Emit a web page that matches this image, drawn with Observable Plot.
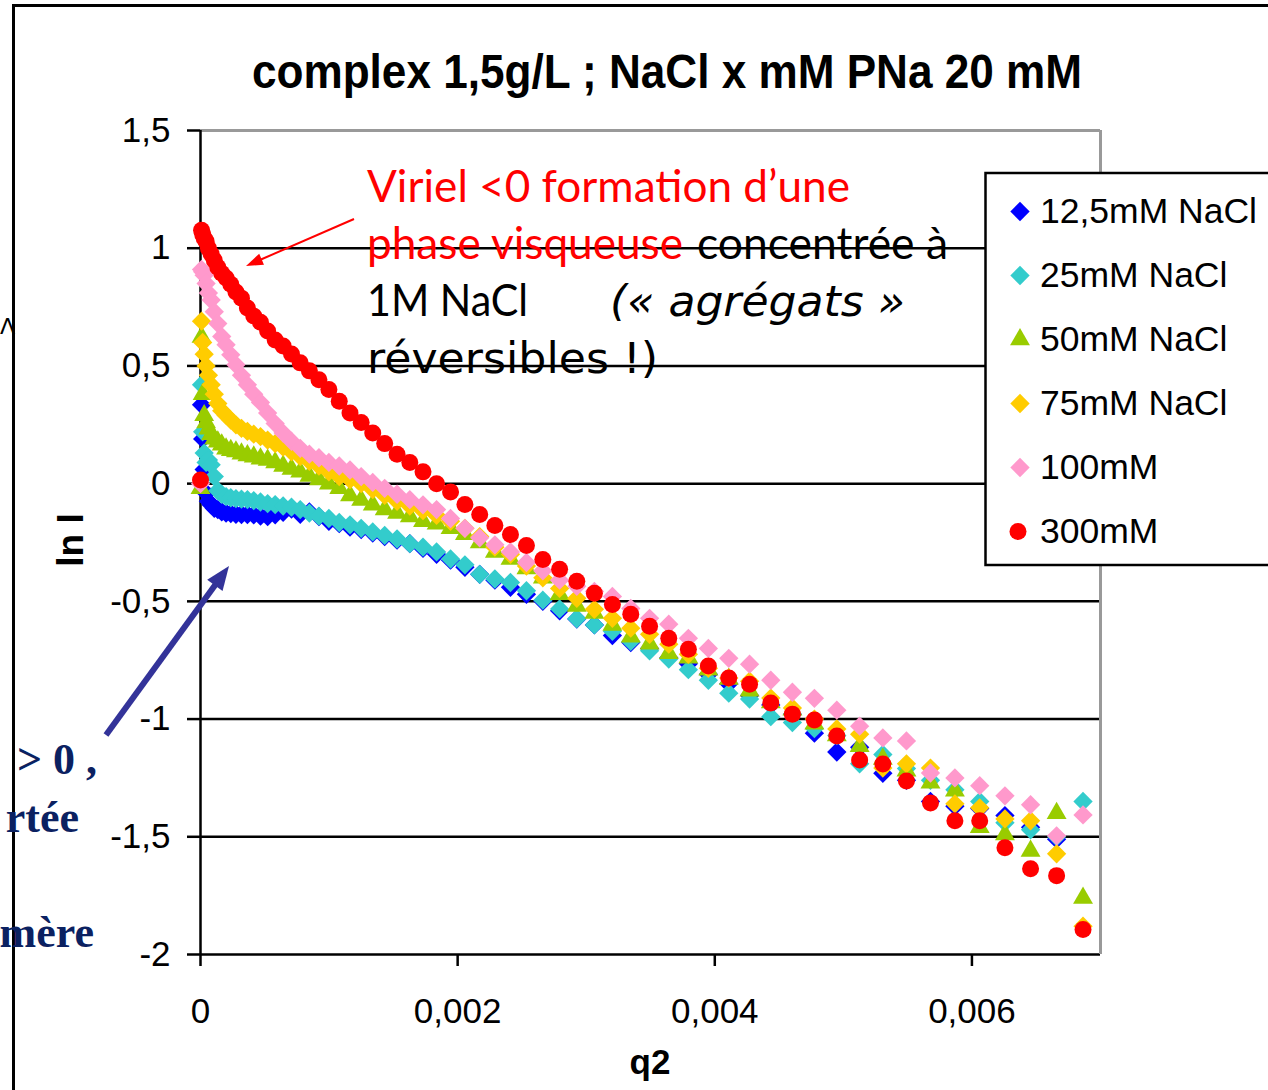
<!DOCTYPE html>
<html>
<head>
<meta charset="utf-8">
<script src="https://cdn.jsdelivr.net/npm/d3@7"></script>
<script src="https://cdn.jsdelivr.net/npm/@observablehq/plot@0.6"></script>
<style>
html, body { margin: 0; padding: 0; background: #fff; }
#chart { width: 1268px; height: 1090px; overflow: hidden; position: relative; }
#chart svg { display: block; }
</style>
</head>
<body>
<div id="chart"></div>
<script>
// ---------- DATA ----------
const q2 = [0, 0.0000081, 0.0000168, 0.0000286, 0.0000436, 0.0000616, 0.0000828, 0.0001071, 0.0001346, 0.0001651,
  0.0001988, 0.0002356, 0.0002756, 0.0003186, 0.0003648, 0.0004141, 0.0004666, 0.0005221, 0.0005808, 0.0006426,
  0.0007076, 0.0007756, 0.0008468, 0.0009211, 0.0009986, 0.0010791, 0.0011628, 0.0012496, 0.0013396, 0.0014326,
  0.0015288, 0.0016281, 0.0017306, 0.0018361, 0.0019448, 0.0020566, 0.0021716, 0.0022896, 0.0024108, 0.0025351,
  0.0026626, 0.0027931, 0.0029268, 0.0030636, 0.0032036, 0.0033466, 0.0034928, 0.0036421, 0.0037946, 0.0039501,
  0.0041088, 0.0042706, 0.0044356, 0.0046036, 0.0047748, 0.0049491, 0.0051266, 0.0053071, 0.0054908, 0.0056776,
  0.0058676, 0.0060606, 0.0062568, 0.0064561, 0.0066586, 0.0068641];

const lnI_12_5 = [null, 0.335, 0.19, 0.06, -0.04, -0.075, -0.09, -0.105, -0.11, -0.12,
  -0.125, -0.127, -0.13, -0.131, -0.131, -0.133, -0.138, -0.14, -0.132, -0.122,
  -0.108, -0.13, -0.12, -0.14, -0.16, -0.17, -0.185, -0.195, -0.21, -0.225,
  -0.24, -0.255, -0.275, -0.30, -0.325, -0.355, -0.385, -0.41, -0.44, -0.47,
  -0.50, -0.54, -0.575, -0.60, -0.645, -0.675, -0.70, -0.74, -0.765, -0.81,
  -0.85, -0.90, -0.94, -0.98, -1.06, -1.14, -1.12, -1.23, -1.26, -1.35,
  -1.37, -1.38, -1.41, -1.46, -1.51];

const lnI_25 = [null, 0.42, 0.22, 0.13, 0.09, 0.10, 0.08, 0.03, -0.03, -0.045,
  -0.055, -0.06, -0.064, -0.066, -0.068, -0.072, -0.078, -0.085, -0.089, -0.095,
  -0.10, -0.11, -0.125, -0.138, -0.148, -0.165, -0.175, -0.19, -0.205, -0.22,
  -0.235, -0.255, -0.27, -0.29, -0.32, -0.345, -0.385, -0.405, -0.42, -0.455,
  -0.495, -0.532, -0.574, -0.60, -0.627, -0.67, -0.71, -0.745, -0.79, -0.835,
  -0.89, -0.915, -0.99, -1.015, -1.04, -1.07, -1.19, -1.15, -1.21, -1.26,
  -1.30, -1.35, -1.44, -1.47, -1.50, -1.35];

const lnI_50 = [-0.02, 0.623, 0.38, 0.29, 0.26, 0.233, 0.21, 0.191, 0.178, 0.165,
  0.148, 0.142, 0.136, 0.127, 0.12, 0.114, 0.106, 0.10, 0.09, 0.075,
  0.062, 0.05, 0.032, 0.018, 0.0, -0.02, -0.05, -0.07, -0.09, -0.11,
  -0.125, -0.14, -0.16, -0.17, -0.19, -0.215, -0.25, -0.29, -0.32, -0.36,
  -0.40, -0.47, -0.52, -0.55, -0.60, -0.65, -0.68, -0.72, -0.74, -0.79,
  -0.83, -0.88, -0.93, -0.96, -1.02, -1.07, -1.115, -1.17, -1.22, -1.27,
  -1.305, -1.46, -1.49, -1.56, -1.40, -1.76];

const lnI_75 = [null, 0.69, 0.60, 0.55, 0.50, 0.46, 0.42, 0.38, 0.34, 0.31,
  0.29, 0.27, 0.25, 0.235, 0.222, 0.21, 0.20, 0.185, 0.17, 0.155,
  0.135, 0.115, 0.095, 0.075, 0.05, 0.03, 0.017, 0.0, -0.025, -0.05,
  -0.075, -0.095, -0.115, -0.135, -0.16, -0.19, -0.225, -0.27, -0.30, -0.35,
  -0.40, -0.445, -0.487, -0.534, -0.572, -0.614, -0.64, -0.682, -0.725, -0.784,
  -0.826, -0.839, -0.911, -0.953, -1.0, -1.042, -1.064, -1.208, -1.19, -1.208,
  -1.36, -1.377, -1.424, -1.432, -1.572, -1.88];

const lnI_100 = [0.0, 0.91, 0.90, 0.885, 0.85, 0.81, 0.78, 0.73, 0.68, 0.625,
  0.59, 0.547, 0.505, 0.46, 0.42, 0.38, 0.345, 0.30, 0.255, 0.215,
  0.18, 0.15, 0.125, 0.11, 0.09, 0.075, 0.058, 0.03, 0.005, -0.02,
  -0.045, -0.068, -0.09, -0.11, -0.148, -0.19, -0.23, -0.26, -0.29, -0.335,
  -0.37, -0.41, -0.436, -0.458, -0.479, -0.53, -0.572, -0.597, -0.657, -0.70,
  -0.742, -0.767, -0.835, -0.886, -0.912, -0.962, -1.03, -1.08, -1.093, -1.229,
  -1.25, -1.283, -1.326, -1.364, -1.496, -1.407];

const lnI_300 = [0.015, 1.076, 1.059, 1.042, 1.030, 1.000, 0.975, 0.949, 0.919, 0.894,
  0.873, 0.847, 0.814, 0.788, 0.746, 0.712, 0.686, 0.648, 0.610, 0.585,
  0.551, 0.513, 0.479, 0.441, 0.40, 0.35, 0.30, 0.26, 0.215, 0.17,
  0.125, 0.09, 0.05, 0.0, -0.035, -0.089, -0.131, -0.178, -0.216, -0.263,
  -0.322, -0.364, -0.415, -0.466, -0.513, -0.555, -0.606, -0.657, -0.703, -0.775,
  -0.826, -0.852, -0.932, -0.979, -1.004, -1.072, -1.174, -1.191, -1.263, -1.356,
  -1.432, -1.432, -1.547, -1.636, -1.665, -1.894];

const seriesNames = ["12,5mM NaCl", "25mM NaCl", "50mM NaCl", "75mM NaCl", "100mM", "300mM"];
const seriesColors = ["#0000FF", "#33CCCC", "#99CC00", "#FFCC00", "#FF99CC", "#FF0000"];
const seriesSymbols = ["diamond2", "diamond2", "triangle2", "diamond2", "diamond2", "circle"];
const seriesValues = [lnI_12_5, lnI_25, lnI_50, lnI_75, lnI_100, lnI_300];

const xTicks = [0, 0.002, 0.004, 0.006];
const yTicks = [1.5, 1, 0.5, 0, -0.5, -1, -1.5, -2];
const gridY = [1, 0.5, 0, -0.5, -1, -1.5, -2];

const titleText = "complex 1,5g/L ; NaCl x mM PNa 20 mM";
const xLabel = "q2";
const yLabel = "ln I";

// ---------- BUILD ----------
const fmt = d => String(d).replace(".", ",");
const symbolR = {diamond2: 8.7, triangle2: 9.5, circle: 8.5};

const marks = [
  Plot.ruleY(gridY, {stroke: "#000", strokeWidth: 2.5}),
  Plot.ruleY([1.5], {stroke: "#999", strokeWidth: 3}),
  Plot.ruleX([0.007], {stroke: "#999", strokeWidth: 3}),
  Plot.ruleX([0], {stroke: "#000", strokeWidth: 2.5}),
  Plot.axisY(yTicks, {tickSize: 13, tickPadding: 17, fontSize: 35, tickFormat: fmt, label: null, color: "#000", strokeWidth: 2.5}),
  Plot.axisX(xTicks, {tickSize: 12, tickPadding: 32, fontSize: 35, tickFormat: fmt, label: null, color: "#000", strokeWidth: 2.5})
];

seriesValues.forEach((vals, s) => {
  const rows = q2.map((x, i) => ({q2: x, lnI: vals[i]})).filter(d => d.lnI != null);
  marks.push(Plot.dot(rows, {
    x: "q2", y: "lnI",
    fill: seriesColors[s], stroke: "none",
    symbol: seriesSymbols[s], r: symbolR[seriesSymbols[s]]
  }));
});

const chart = Plot.plot({
  width: 1268, height: 1090,
  marginLeft: 200, marginRight: 168, marginTop: 130, marginBottom: 136,
  x: {domain: [0, 0.007], label: null},
  y: {domain: [-2, 1.5], label: null},
  style: {fontFamily: "'Liberation Sans', Arial, sans-serif", background: "#fff", color: "#000"},
  marks
});
document.getElementById("chart").appendChild(chart);

// ---------- DECORATIONS ----------
const svg = d3.select(chart);
const deco = svg.append("g").attr("text-anchor", "start");
const sans = "'Liberation Sans', Arial, sans-serif";
const serif = "'Liberation Serif', 'Times New Roman', serif";
const calibri = "Lato, 'Open Sans', sans-serif";
const comic = "'DejaVu Sans', sans-serif";

// outer frame
deco.append("line").attr("x1", 13.5).attr("y1", 4).attr("x2", 13.5).attr("y2", 1090).attr("stroke", "#000").attr("stroke-width", 3);
deco.append("line").attr("x1", 12).attr("y1", 5.5).attr("x2", 1268).attr("y2", 5.5).attr("stroke", "#000").attr("stroke-width", 3);

// title
deco.append("text").attr("x", 252).attr("y", 88).attr("text-anchor", "start").attr("font-family", sans).attr("font-weight", "bold")
  .attr("font-size", 48).attr("textLength", 830).attr("lengthAdjust", "spacingAndGlyphs").text(titleText);

// axis labels
deco.append("text").attr("transform", "translate(83,540) rotate(-90)").attr("text-anchor", "middle")
  .attr("font-family", sans).attr("font-weight", "bold").attr("font-size", 37).text(yLabel);
deco.append("text").attr("x", 650).attr("y", 1074).attr("text-anchor", "middle")
  .attr("font-family", sans).attr("font-weight", "bold").attr("font-size", 35).text(xLabel);

// annotation text
function chunk(x, y, str, opts) {
  const t = deco.append("text").attr("x", x).attr("y", y).attr("text-anchor", "start").attr("font-family", opts.font)
    .attr("font-size", opts.size).attr("fill", opts.fill || "#000").text(str);
  if (opts.italic) t.attr("font-style", "italic");
  if (opts.len) t.attr("textLength", opts.len).attr("lengthAdjust", "spacingAndGlyphs");
  return t;
}
chunk(367, 202, "Viriel <0 formation d’une", {font: calibri, size: 44, fill: "#FF0000", len: 483});
chunk(367, 259, "phase visqueuse", {font: calibri, size: 44, fill: "#FF0000", len: 316});
chunk(697, 259, "concentrée à", {font: calibri, size: 44, len: 251});
chunk(367, 316, "1M NaCl", {font: calibri, size: 44, len: 161});
chunk(610, 316, "(« agrégats »", {font: comic, size: 42, italic: true, len: 295});
chunk(367, 373, "réversibles !)", {font: comic, size: 42, len: 291});

// texts at the left edge
const navy = "#0B2161";
deco.append("text").attr("x", 97).attr("y", 774).attr("text-anchor", "end").attr("font-family", serif)
  .attr("font-weight", "bold").attr("font-size", 44).attr("fill", navy).text("> 0 ,");
deco.append("text").attr("x", 79).attr("y", 832).attr("text-anchor", "end").attr("font-family", serif)
  .attr("font-weight", "bold").attr("font-size", 44).attr("fill", navy).text("rtée");
deco.append("text").attr("x", 94).attr("y", 947).attr("text-anchor", "end").attr("font-family", serif)
  .attr("font-weight", "bold").attr("font-size", 44).attr("fill", navy).text("mère");
deco.append("text").attr("x", 0).attr("y", 334).attr("text-anchor", "start").attr("font-family", "'DejaVu Sans', sans-serif")
  .attr("font-size", 22).attr("fill", "#000").text("Λ");

// arrows
function arrow(p1, p2, color, w, hl, hw) {
  const dx = p2[0] - p1[0], dy = p2[1] - p1[1], L = Math.hypot(dx, dy), ux = dx / L, uy = dy / L;
  const bx = p2[0] - ux * hl, by = p2[1] - uy * hl;
  deco.append("line").attr("x1", p1[0]).attr("y1", p1[1]).attr("x2", bx + ux * 2).attr("y2", by + uy * 2)
    .attr("stroke", color).attr("stroke-width", w);
  deco.append("path").attr("d", `M${p2[0]},${p2[1]}L${bx - uy * hw / 2},${by + ux * hw / 2}L${bx + uy * hw / 2},${by - ux * hw / 2}Z`)
    .attr("fill", color);
}
arrow([354, 219], [246, 266], "#FF0000", 2, 17, 12);
arrow([106, 735], [229, 566], "#333399", 6, 24, 19);

// legend
const lg = deco.append("g");
lg.append("rect").attr("x", 985.5).attr("y", 173).attr("width", 400).attr("height", 392)
  .attr("fill", "#fff").attr("stroke", "#000").attr("stroke-width", 2.5);
const d3Sym = {diamond2: d3.symbolDiamond2, triangle2: d3.symbolTriangle2, circle: d3.symbolCircle};
seriesNames.forEach((name, s) => {
  const cy = 211.5 + s * 64;
  const sym = seriesSymbols[s];
  const r = symbolR[sym];
  lg.append("path").attr("transform", `translate(${sym === "circle" ? 1018 : 1020},${cy})`)
    .attr("d", d3.symbol(d3Sym[sym], Math.PI * r * r)()).attr("fill", seriesColors[s]);
  lg.append("text").attr("x", 1040).attr("y", cy + 11).attr("text-anchor", "start").attr("font-family", sans).attr("font-size", 35.5)
    .attr("fill", "#000").text(name);
});
</script>
</body>
</html>
